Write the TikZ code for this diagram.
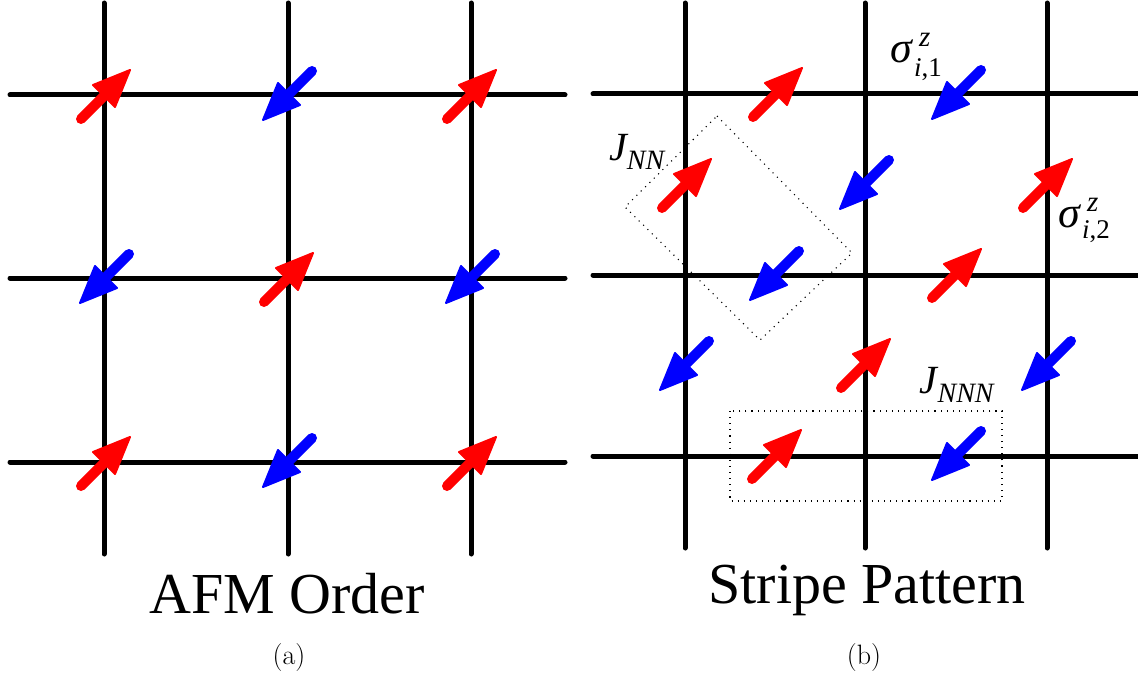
\documentclass[tikz,border=0pt]{standalone}
\usepackage{amsmath}
\usepackage{fontspec}
\newfontfamily\tnr{Liberation Serif}
\begin{document}
\begin{tikzpicture}[x=1pt,y=-1pt,
  gridline/.style={line width=5pt,line cap=round,black},
  dotbox/.style={line width=1.1pt,dash pattern=on 1.1pt off 5pt,black},
  title/.style={font=\tnr\fontsize{58}{64}\selectfont,anchor=base,inner sep=0pt},
  caption/.style={font=\fontsize{28}{32}\selectfont,anchor=base,inner sep=0pt},
  mlabel/.style={font=\fontsize{40}{48}\selectfont,inner sep=0pt},
  sigmabig/.style={font=\tnr\itshape\fontsize{44}{50}\selectfont,inner sep=0pt,anchor=base west},
  sigmasup/.style={font=\tnr\itshape\fontsize{29}{34}\selectfont,inner sep=0pt,anchor=base west},
  sigmasub/.style={font=\tnr\fontsize{27}{32}\selectfont,inner sep=0pt,anchor=base west}]
\newcommand\spinarrow[4]{%
  \begin{scope}[shift={(#1,#2)},rotate=#4]
    \draw[line width=10pt,line cap=round,#3] (-24,24) -- (2,-2);
    \filldraw[#3,line width=2pt,line join=round] (25,-25) -- (10,12) -- (-12,-10) -- cycle;
  \end{scope}}
\newcommand\tit[1]{\text{\tnr\itshape #1}}
\useasboundingbox (0,0) rectangle (1138,674);
% ---------- left panel ----------
\foreach \x in {104,288,471} \draw[gridline] (\x,3) -- (\x,554);
\foreach \y in {95,278,462} \draw[gridline] (10,\y) -- (565,\y);
\spinarrow{105}{95}{red}{0}
\spinarrow{288}{95}{blue}{180}
\spinarrow{471}{95}{red}{0}
\spinarrow{105}{278}{blue}{180}
\spinarrow{288}{278}{red}{0}
\spinarrow{471}{278}{blue}{180}
\spinarrow{105}{462}{red}{0}
\spinarrow{288}{462}{blue}{180}
\spinarrow{471}{462}{red}{0}
\node[title] (ta) at (287,613) {AFM Order};
\node[caption] (ca) at (289,664) {(a)};
% ---------- right panel ----------
\foreach \x in {685,865,1047} \draw[gridline] (\x,3) -- (\x,548);
\foreach \y in {94,275,456} \draw[gridline] (593,\y) -- (1140,\y);
\draw[dotbox] (717,116) -- (852,253) -- (760,340) -- (625,207) -- cycle;
\draw[dotbox] (730,411) rectangle (1002,501);
\spinarrow{777}{93}{red}{0}
\spinarrow{957}{94}{blue}{180}
\spinarrow{686}{184}{red}{0}
\spinarrow{865}{184}{blue}{180}
\spinarrow{1047}{184}{red}{0}
\spinarrow{775}{275}{blue}{180}
\spinarrow{956}{274}{red}{0}
\spinarrow{685}{365}{blue}{180}
\spinarrow{865}{364}{red}{0}
\spinarrow{1047}{365}{blue}{180}
\spinarrow{776}{455}{red}{0}
\spinarrow{957}{455}{blue}{180}
\node[mlabel] (jnn) at (637,152) {$\tit{J}_{\tit{NN}}$};
\node[mlabel] (jnnn) at (957,385) {$\tit{J}_{\tit{NNN}}$};
% sigma^z_{i,1}
\node[sigmabig] (s1) at (890,63) {σ};
\node[sigmasup] (s1z) at (919,47) {z};
\node[sigmasub] (s1i) at (914,77) {\itshape i\upshape,1};
% sigma^z_{i,2}
\node[sigmabig] (s2) at (1058,227) {σ};
\node[sigmasup] (s2z) at (1087,211) {z};
\node[sigmasub] (s2i) at (1082,238) {\itshape i\upshape,2};
\node[title] (tb) at (867,603) {Stripe Pattern};
\node[caption] (cb) at (864,664) {(b)};
\end{tikzpicture}
\end{document}
